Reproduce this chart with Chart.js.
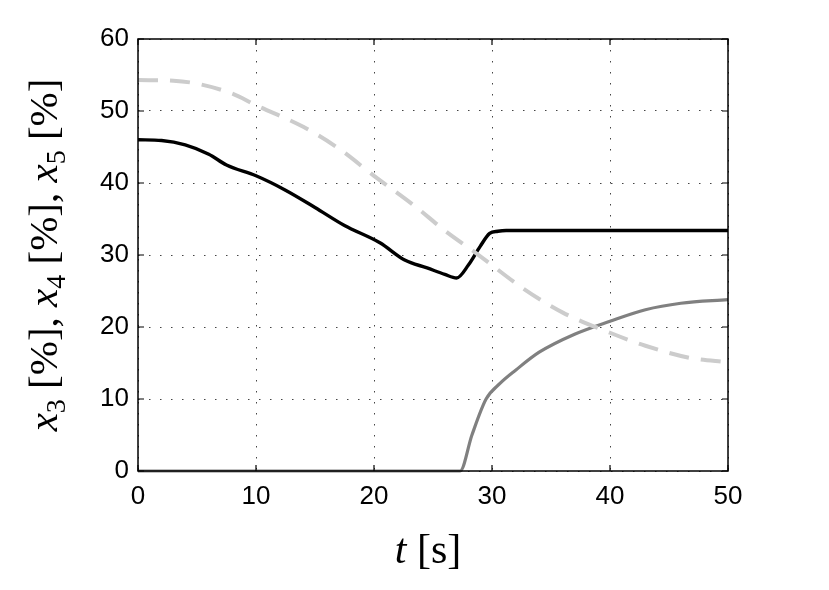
<!DOCTYPE html>
<html>
<head>
<meta charset="utf-8">
<script src="https://cdn.jsdelivr.net/npm/chart.js@4/dist/chart.umd.min.js"></script>
<style>
  html, body { margin: 0; padding: 0; background: #fff; }
  #wrap { width: 829px; height: 590px; }
</style>
</head>
<body>
<div id="wrap"><canvas id="myChart" width="829" height="590"></canvas></div>
<script>
// values
const xTicks = [0, 10, 20, 30, 40, 50];
const yTicks = [0, 10, 20, 30, 40, 50, 60];

const tBlack = [0, 2, 4, 6, 7.5, 10, 12.5, 15, 17.5, 20.5, 22.6, 24.5, 26, 27, 28, 29, 29.8, 30.5, 31.2, 35, 40, 45, 50];
const x3 = [46, 45.9, 45.3, 44, 42.5, 41, 39, 36.6, 34.1, 31.7, 29.3, 28.2, 27.3, 26.8, 28.6, 31.2, 33.0, 33.3, 33.4, 33.4, 33.4, 33.4, 33.4];

const tGray = [0, 10, 20, 27.3, 28.3, 29.5, 30.7, 32, 34, 37, 40, 43, 46, 50];
const x4 = [0, 0, 0, 0, 5, 10, 12.2, 14, 16.5, 19, 20.8, 22.4, 23.3, 23.8];

const tLight = [0, 3, 5, 8, 10, 14, 17, 20, 23.3, 26, 28.7, 32.6, 36, 40, 43, 46.8, 50];
const x5 = [54.3, 54.2, 53.8, 52.4, 50.8, 47.8, 44.8, 41, 37, 33.4, 30.2, 25.4, 22, 19.2, 17.4, 15.7, 15.1];

// axis label pieces: [text, italic, subscript]
const xLabel = [['t', true, false], [' [s]', false, false]];
const yLabel = [
    ['x', true, false], ['3', false, true], [' [%], ', false, false],
    ['x', true, false], ['4', false, true], [' [%], ', false, false],
    ['x', true, false], ['5', false, true], [' [%]', false, false]
];

function pts(ts, vs) {
    return ts.map((t, i) => ({ x: t, y: vs[i] }));
}

function pieceFont(p, size) {
    const s = p[2] ? Math.round(size * 0.68) : size;
    return (p[1] ? 'italic ' : '') + s + 'px "Liberation Serif"';
}

function drawLabel(ctx, pieces, cx, cy, size) {
    let w = 0;
    pieces.forEach(p => { ctx.font = pieceFont(p, size); w += ctx.measureText(p[0]).width; });
    let x = cx - w / 2;
    ctx.textBaseline = 'alphabetic';
    ctx.textAlign = 'left';
    pieces.forEach(p => {
        ctx.font = pieceFont(p, size);
        ctx.fillText(p[0], x, cy + (p[2] ? size * 0.2 : 0));
        x += ctx.measureText(p[0]).width;
    });
}

const frame = {
    id: 'frame',
    afterDatasetsDraw(chart) {
        const a = chart.chartArea;
        const ctx = chart.ctx;
        const xs = chart.scales.x, ys = chart.scales.y;
        ctx.save();
        ctx.strokeStyle = '#000';
        ctx.lineWidth = 1.5;
        ctx.strokeRect(a.left, a.top, a.right - a.left, a.bottom - a.top);
        // inward ticks like matlab
        ctx.lineWidth = 1.2;
        xTicks.forEach(v => {
            const px = xs.getPixelForValue(v);
            ctx.beginPath();
            ctx.moveTo(px, a.bottom); ctx.lineTo(px, a.bottom - 6);
            ctx.moveTo(px, a.top); ctx.lineTo(px, a.top + 6);
            ctx.stroke();
        });
        yTicks.forEach(v => {
            const py = ys.getPixelForValue(v);
            ctx.beginPath();
            ctx.moveTo(a.left, py); ctx.lineTo(a.left + 6, py);
            ctx.moveTo(a.right, py); ctx.lineTo(a.right - 6, py);
            ctx.stroke();
        });
        // axis titles
        ctx.fillStyle = '#000';
        drawLabel(ctx, xLabel, (a.left + a.right) / 2 - 5, 563, 42);
        ctx.save();
        ctx.translate(57, (a.top + a.bottom) / 2);
        ctx.rotate(-Math.PI / 2);
        drawLabel(ctx, yLabel, 0, 0, 41);
        ctx.restore();
        ctx.restore();
    }
};

let myChart = document.getElementById('myChart').getContext('2d');
let chart = new Chart(myChart, {
    type: 'line',
    data: {
        datasets: [
            {
                label: 'x5',
                data: pts(tLight, x5),
                borderColor: '#cccccc',
                borderWidth: 4,
                borderDash: [20, 12],
                pointRadius: 0,
                cubicInterpolationMode: 'monotone'
            },
            {
                label: 'x4',
                data: pts(tGray, x4),
                borderColor: '#808080',
                borderWidth: 3.2,
                pointRadius: 0,
                cubicInterpolationMode: 'monotone'
            },
            {
                label: 'x3',
                data: pts(tBlack, x3),
                borderColor: '#000000',
                borderWidth: 3.4,
                pointRadius: 0,
                cubicInterpolationMode: 'monotone'
            }
        ]
    },
    options: {
        responsive: false,
        animation: false,
        clip: false,
        layout: { padding: { top: 39, right: 101, left: 0, bottom: 0 } },
        plugins: { legend: { display: false }, tooltip: { enabled: false } },
        scales: {
            x: {
                type: 'linear',
                min: 0, max: 50,
                afterFit: s => { s.height = 119; },
                afterBuildTicks: s => { s.ticks = xTicks.map(v => ({ value: v })); },
                ticks: {
                    color: '#000',
                    font: { family: 'Liberation Sans', size: 26 },
                    padding: 10
                },
                grid: {
                    color: '#444',
                    lineWidth: 1,
                    drawTicks: false
                },
                border: { display: false, dash: [1.5, 9.5] }
            },
            y: {
                min: 0, max: 60,
                afterFit: s => { s.width = 138; },
                afterBuildTicks: s => { s.ticks = yTicks.map(v => ({ value: v })); },
                ticks: {
                    color: '#000',
                    font: { family: 'Liberation Sans', size: 26 },
                    padding: 9
                },
                grid: {
                    color: '#444',
                    lineWidth: 1,
                    drawTicks: false
                },
                border: { display: false, dash: [1.5, 9.5] }
            }
        }
    },
    plugins: [frame]
});
</script>
</body>
</html>
